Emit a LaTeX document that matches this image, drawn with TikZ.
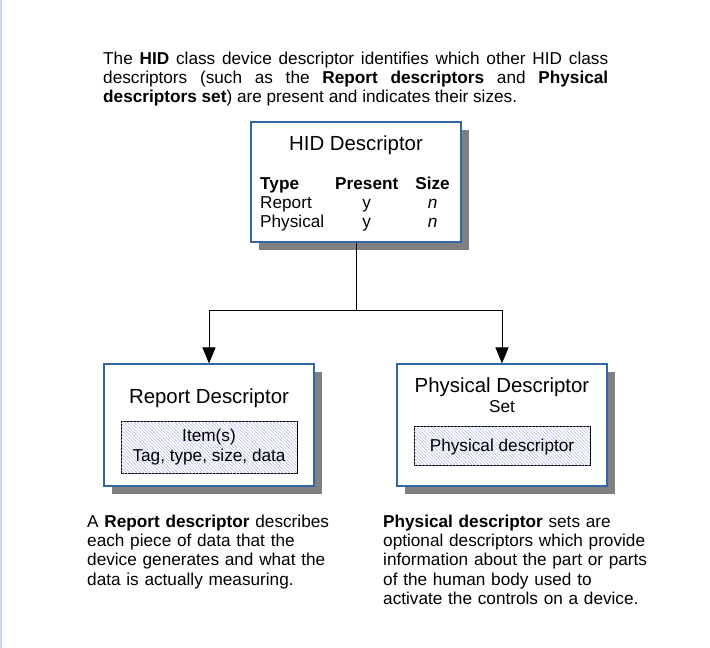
\documentclass[tikz,border=0pt]{standalone}
\usepackage{fontspec}
\setmainfont{Liberation Sans}
\usetikzlibrary{arrows.meta,shadows,patterns.meta}
\definecolor{boxblue}{RGB}{52,101,164}
\definecolor{hatch}{RGB}{175,182,228}
\definecolor{edgeblue}{RGB}{200,215,235}
\newcommand{\descfont}{\fontsize{17.2}{19.4}\selectfont}
\newcommand{\deschead}{\fontsize{20.4}{23}\selectfont}

\begin{document}
\begin{tikzpicture}[x=1pt,y=-1pt,
    descbox/.style={draw=boxblue, line width=1.1pt, fill=white, minimum width=210pt, inner sep=0pt,
      drop shadow={shadow xshift=8pt, shadow yshift=-8pt, fill=black!50, opacity=1}},
    itembox/.style={draw=black, line width=0.9pt, fill=white, minimum width=176pt, inner sep=0pt,
      postaction={pattern={Lines[angle=-45,distance=2.4pt,line width=0.5pt]}, pattern color=hatch},
      font=\descfont, align=center},
    link/.style={line width=1pt, -{Triangle[length=16pt,width=13pt]}},
    note/.style={font=\descfont, inner sep=0pt, text width=#1, anchor=base west, align=left},
  ]
    \useasboundingbox (0,0) rectangle (710,648);
    \draw[edgeblue, line width=2pt] (1,0) -- (1,648);

    \node[font=\descfont, text width=505pt, align=justify, anchor=base west, inner sep=0pt] (intro) at (103,64)
      {The \textbf{HID} class device descriptor identifies which other HID class\linebreak
       descriptors (such as the \textbf{Report descriptors} and \textbf{Physical}\linebreak
       \textbf{descriptors set}) are present and indicates their sizes.};

    \node[descbox, minimum height=120pt] (hid) at (356,182) {};
    \node[font=\deschead, anchor=base] (hidtitle) at (356,150) {HID Descriptor};
    \node[font=\descfont, anchor=base west, inner sep=0pt] (hidtable) at (260,189)
      {\begin{tabular}[t]{@{}l@{\hspace{11pt}}c@{\hspace{17pt}}c@{}}
         \textbf{Type} & \textbf{Present} & \textbf{Size} \\
         Report & y & \textit{n} \\
         Physical & y & \textit{n}
       \end{tabular}};

    \node[descbox, minimum height=122pt] (report) at (209,425) {};
    \node[font=\deschead, anchor=base] (reporttitle) at (209,403) {Report Descriptor};
    \node[itembox, minimum height=52pt] (items) at (209,447) {Item(s)\\Tag, type, size, data};

    \node[descbox, minimum height=122pt] (phys) at (502,425) {};
    \node[font=\deschead, anchor=base] (phystitle) at (502,392) {Physical Descriptor};
    \node[font=\descfont, anchor=base] (physset) at (502,412) {Set};
    \node[itembox, minimum height=39pt, text depth=0pt] (physitem) at (502,445.5) {Physical descriptor};

    \coordinate (split) at (356,310);
    \draw[line width=1pt] (hid) -- (split);
    \draw[link] (split) -| (report);
    \draw[link] (split) -| (phys);

    \node[note=300pt] (reportnote) at (87,527)
      {A \textbf{Report descriptor} describes\\each piece of data that the\\device generates and what the\\data is actually measuring.};
    \node[note=300pt] (physnote) at (383,527)
      {\textbf{Physical descriptor} sets are\\optional descriptors which provide\\information about the part or parts\\of the human body used to\\activate the controls on a device.};
\end{tikzpicture}
\end{document}
